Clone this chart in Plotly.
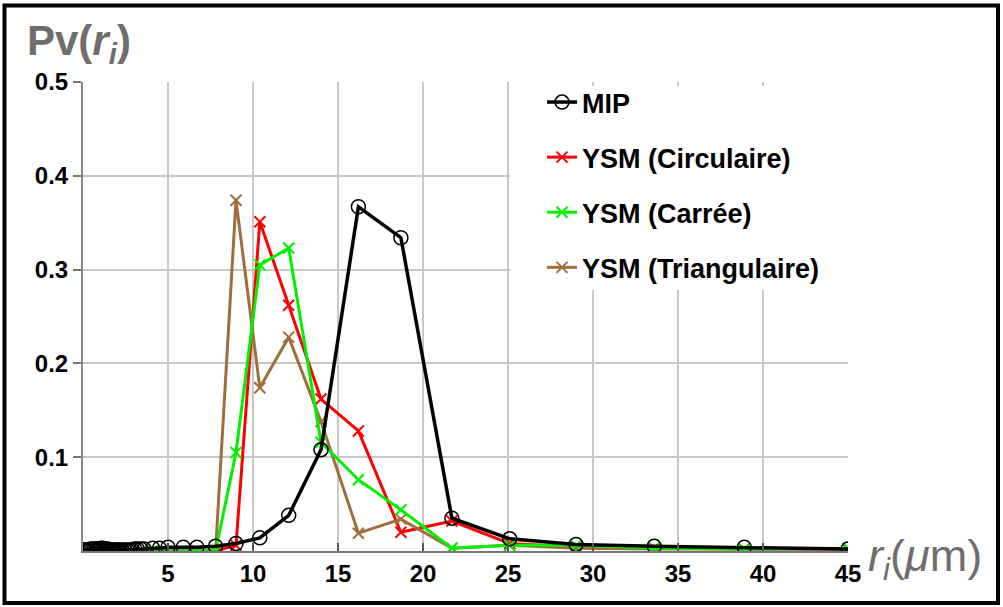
import plotly.graph_objects as go

# ---- data ----
mip_r = [0.05, 0.15, 0.25, 0.35, 0.45, 0.55, 0.65, 0.75, 0.85, 0.95, 1.05, 1.15, 1.25, 1.35,
         1.45, 1.55, 1.65, 1.75, 1.85, 1.95, 2.05, 2.15, 2.3, 2.45, 2.6, 2.75, 2.9, 3.05, 3.2,
         3.4, 3.6, 4.1, 4.5, 5.0, 5.9, 6.7, 7.8, 9.0, 10.4, 12.1,
         14.0, 16.2, 18.7, 21.7, 25.1, 29.0, 33.6, 38.9, 45.0]
mip_pv = [0.001, 0.001, 0.001, 0.001, 0.002, 0.002, 0.002, 0.002, 0.002, 0.002, 0.003, 0.003,
          0.002, 0.002, 0.002, 0.001, 0.001, 0.001, 0.001, 0.001, 0.001, 0.001, 0.001, 0.001,
          0.001, 0.001, 0.001, 0.002, 0.002, 0.002, 0.002, 0.003, 0.003,
          0.004, 0.004, 0.004, 0.005, 0.008, 0.014, 0.038, 0.108, 0.367, 0.334, 0.035, 0.013,
          0.007, 0.005, 0.004, 0.002]

ysm_r = [0.2, 4.1, 6.7, 7.8, 9.0, 10.4, 12.1, 14.0, 16.2, 18.7, 21.7, 25.1, 29.0, 33.6, 38.9, 45.0]
circ_pv = [0.0, 0.0, 0.0, 0.0, 0.006, 0.351, 0.262, 0.162, 0.128, 0.020, 0.032, 0.008, 0.004, 0.003, 0.002, 0.002]
carre_pv = [0.0, 0.0, 0.0, 0.0, 0.105, 0.305, 0.323, 0.116, 0.076, 0.044, 0.003, 0.006, 0.006, 0.003, 0.002, 0.003]
tri_pv = [0.0, 0.0, 0.0, 0.0, 0.374, 0.174, 0.228, 0.138, 0.019, 0.034, 0.003, 0.006, 0.003, 0.002, 0.002, 0.002]

x_ticks = [5, 10, 15, 20, 25, 30, 35, 40, 45]
y_ticks = [0.1, 0.2, 0.3, 0.4, 0.5]

names = ["MIP", "YSM (Circulaire)", "YSM (Carrée)", "YSM (Triangulaire)"]
colors = ["#000000", "#ff0000", "#00f000", "#a06e3c"]

FONT = "Liberation Sans, Arial, sans-serif"

fig = go.Figure()

# draw order: red, brown, green, black on top
fig.add_trace(go.Scatter(x=ysm_r, y=circ_pv, name=names[1], mode="lines+markers",
                         line=dict(color=colors[1], width=3),
                         marker=dict(symbol="x-thin", size=11, line=dict(width=2, color=colors[1])),
                         legendgroup="b", legendrank=2))
fig.add_trace(go.Scatter(x=ysm_r, y=tri_pv, name=names[3], mode="lines+markers",
                         line=dict(color=colors[3], width=3),
                         marker=dict(symbol="x-thin", size=11, line=dict(width=2, color=colors[3])),
                         legendgroup="d", legendrank=4))
fig.add_trace(go.Scatter(x=ysm_r, y=carre_pv, name=names[2], mode="lines+markers",
                         line=dict(color=colors[2], width=3),
                         marker=dict(symbol="x-thin", size=11, line=dict(width=2, color=colors[2])),
                         legendgroup="c", legendrank=3))
fig.add_trace(go.Scatter(x=mip_r, y=mip_pv, name=names[0], mode="lines+markers",
                         line=dict(color=colors[0], width=3.5),
                         marker=dict(symbol="circle-open", size=14, color="#000000",
                                     line=dict(width=1.5, color="#000000")),
                         legendgroup="a", legendrank=1))

L, R, T, B = 83, 155, 82, 56
W, H = 1003, 607
pw, ph = W - L - R, H - T - B


def px(p):
    return (p - L) / pw


def py(p):
    return (H - B - p) / ph


fig.update_layout(
    width=W, height=H,
    margin=dict(l=L, r=R, t=T, b=B),
    paper_bgcolor="white", plot_bgcolor="white",
    font=dict(family=FONT, color="black"),
    showlegend=True,
    legend=dict(x=px(542), y=py(78), xanchor="left", yanchor="top",
                bgcolor="rgba(255,255,255,0)", borderwidth=0,
                traceorder="grouped", tracegroupgap=17,
                font=dict(family=FONT, size=27, weight="bold", color="black")),
    xaxis=dict(range=[0, 45], tickvals=x_ticks, ticktext=[str(v) for v in x_ticks],
               showgrid=True, gridcolor="#c8c8c8", gridwidth=2, zeroline=False,
               showline=True, linecolor="#777777", linewidth=2,
               ticks="inside", ticklen=8, tickwidth=2, tickcolor="#555555",
               tickfont=dict(family=FONT, size=24, weight="bold", color="black")),
    yaxis=dict(range=[0, 0.5], tickvals=y_ticks, ticktext=[f"{v:.1f}" for v in y_ticks],
               showgrid=True, gridcolor="#c8c8c8", gridwidth=2, zeroline=False,
               showline=True, linecolor="#888888", linewidth=2,
               ticks="outside", ticklen=8, tickwidth=2, tickcolor="#777777",
               tickfont=dict(family=FONT, size=24, weight="bold", color="black")),
    shapes=[
        # white panel behind the legend (covers gridlines)
        dict(type="rect", xref="paper", yref="paper", layer="above",
             x0=px(510), x1=px(858), y0=py(290), y1=py(86),
             fillcolor="white", line=dict(width=0)),
        # outer black frame
        dict(type="rect", xref="paper", yref="paper", layer="above",
             x0=px(4.5), x1=px(998), y0=py(603), y1=py(5.5),
             fillcolor="rgba(0,0,0,0)", line=dict(color="black", width=4)),
    ],
    annotations=[
        dict(text="<b>Pv(<i>r</i><sub><i>i</i></sub>)</b>", xref="paper", yref="paper",
             x=px(25), y=py(43), xanchor="left", yanchor="middle", showarrow=False,
             font=dict(family=FONT, size=42, color="#6e6e6e")),
        dict(text="<i>r</i><sub><i>i</i></sub>(<i>μ</i>m)", xref="paper", yref="paper",
             x=px(866), y=py(558), xanchor="left", yanchor="middle", showarrow=False,
             font=dict(family=FONT, size=45, color="#6e6e6e")),
    ],
)

fig.write_html("out.html", config={"displayModeBar": False},
               post_script="document.body.style.margin='0px';")
